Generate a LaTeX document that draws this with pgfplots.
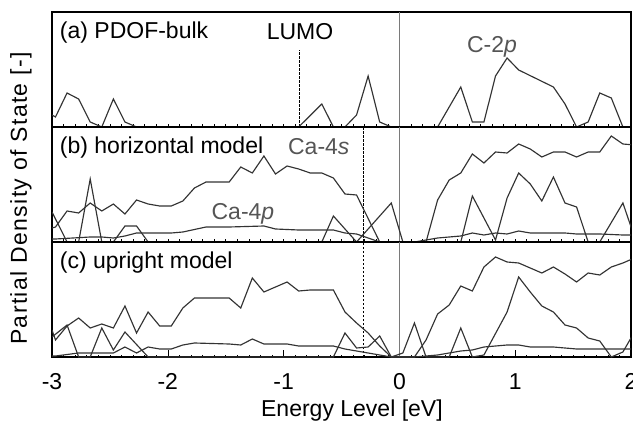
\documentclass[border=0pt]{standalone}
\usepackage{fontspec}
\setmainfont{Liberation Sans}
\usepackage{pgfplots}
\pgfplotsset{compat=1.18}

\definecolor{dline}{HTML}{333333}
\definecolor{zline}{HTML}{7A7A7A}
\definecolor{lbl}{HTML}{555555}

\pgfplotsset{
  panel/.style={
    scale only axis, width=579bp, height=115bp,
    xmin=-3, xmax=2, ymin=0, ymax=115,
    ytick=\empty,
    xtick={-3,-2,-1,0,1,2},
    xticklabels={},
    minor x tick num=9,
    xtick pos=bottom,
    tick align=inside,
    major tick length=2.5bp, minor tick length=2.5bp,
    axis line style={line width=1.3bp},
    every tick/.style={black, line width=0.6bp},
  },
  dos/.style={dline, line width=1.15bp, mark=none},
  zero/.style={zline, line width=1.6bp, mark=none},
  vdash/.style={black, line width=0.8bp, dash pattern=on 2.5bp off 1.5bp, mark=none},
}

\begin{document}
\begin{tikzpicture}[font=\fontsize{23bp}{27bp}\selectfont]

% (a) PDOF-bulk
\begin{axis}[panel, at={(0,230bp)}, anchor=south west]
  \addplot[zero] coordinates {(0,0) (0,115)};
  \addplot[vdash] coordinates {(-0.86,0) (-0.86,77)};
  \addplot[dos] coordinates {
    (-3.0,12) (-2.97,10) (-2.87,34) (-2.77,28) (-2.67,5) (-2.57,0) (-2.47,28) (-2.37,5) (-2.27,0)
    (-0.87,0) (-0.67,23) (-0.57,0) (-0.47,0) (-0.37,12) (-0.27,51) (-0.17,5) (-0.07,0)
    (0.33,0) (0.53,40) (0.63,5) (0.73,5) (0.83,51) (0.93,69) (1.03,57) (1.33,40) (1.43,23)
    (1.53,0) (1.63,5) (1.73,34) (1.83,29) (1.93,0) (2.03,0)
  };
  \node[anchor=base west, inner sep=0pt] at (axis cs:-2.933,88) {(a) PDOF-bulk};
  \node[anchor=base, inner sep=0pt] at (axis cs:-0.858,87) {LUMO};
  \node[anchor=base, inner sep=0pt, text=lbl] at (axis cs:0.80,74) {C-2\textit{p}};
\end{axis}

% (b) horizontal model
\begin{axis}[panel, at={(0,115bp)}, anchor=south west]
  \addplot[zero] coordinates {(0,0) (0,115)};
  \addplot[vdash] coordinates {(-0.31,0) (-0.31,115)};
  % Ca-4s / upper curve
  \addplot[dos] coordinates {
    (-3.0,14) (-2.97,15) (-2.87,31) (-2.77,29) (-2.67,39) (-2.57,31) (-2.47,38) (-2.37,28) (-2.27,42)
    (-2.17,38) (-2.07,36) (-1.97,36) (-1.87,41) (-1.77,54) (-1.67,60) (-1.57,60) (-1.47,60)
    (-1.37,75) (-1.27,69) (-1.17,86) (-1.07,68) (-0.97,76) (-0.87,73) (-0.77,69) (-0.67,69)
    (-0.57,64) (-0.47,48) (-0.37,47) (-0.17,0) (0.23,0) (0.33,42) (0.43,62) (0.53,69) (0.63,88)
    (0.73,79) (0.83,90) (0.93,89) (1.03,98) (1.13,93) (1.23,85) (1.33,90) (1.43,90) (1.53,85)
    (1.63,90) (1.73,90) (1.83,106) (1.93,98) (2.03,97)
  };
  % Ca-4p / low curve
  \addplot[dos] coordinates {
    (-3.0,3) (-2.97,3) (-2.67,5) (-2.57,5) (-2.47,4) (-2.37,6) (-2.27,9) (-1.97,9) (-1.87,10)
    (-1.67,15) (-1.47,15) (-1.17,16) (-1.07,13) (-0.87,12) (-0.57,12) (-0.47,9) (-0.37,8)
    (-0.27,4) (-0.17,0) (0.13,0) (0.33,4) (0.53,6) (0.63,9) (0.73,7) (0.83,9) (0.93,8) (1.03,11)
    (1.13,9) (1.43,9) (1.53,8) (1.73,8) (1.93,7) (2.03,7)
  };
  % spiky curve
  \addplot[dos] coordinates {
    (-3.0,30) (-2.87,0) (-2.77,0) (-2.67,63) (-2.57,0) (-2.47,0) (-2.37,16) (-2.27,16) (-2.17,0)
    (-0.67,0) (-0.57,26) (-0.37,0) (-0.07,39) (0.03,0) (0.53,0) (0.63,46) (0.83,2) (0.93,44)
    (1.03,69) (1.13,58) (1.23,41) (1.33,65) (1.43,39) (1.53,35) (1.63,0) (1.73,0) (1.93,39) (2.03,5)
  };
  \node[anchor=base west, inner sep=0pt] at (axis cs:-2.933,88) {(b) horizontal model};
  \node[anchor=base, inner sep=0pt, text=lbl] at (axis cs:-0.696,87) {Ca-4\textit{s}};
  \node[anchor=base, inner sep=0pt, text=lbl] at (axis cs:-1.351,22) {Ca-4\textit{p}};
\end{axis}

% (c) upright model
\begin{axis}[panel, at={(0,0)}, anchor=south west,
    xticklabels={-3,-2,-1,0,1,2},
    major tick length=7bp,
    xticklabel style={inner sep=0pt, anchor=north, yshift=-16bp},
    xlabel={Energy Level [eV]},
    xlabel style={at={(axis description cs:0.518,0)}, anchor=north, inner sep=0pt, yshift=-43bp},
  ]
  \addplot[zero] coordinates {(0,0) (0,115)};
  \addplot[vdash] coordinates {(-0.31,0) (-0.31,115)};
  % upper curve
  \addplot[dos] coordinates {
    (-3.0,27) (-2.97,17) (-2.87,31) (-2.77,39) (-2.67,29) (-2.57,33) (-2.47,29) (-2.37,51) (-2.27,24)
    (-2.17,45) (-2.07,31) (-1.97,31) (-1.87,49) (-1.77,59) (-1.57,59) (-1.47,59) (-1.37,49)
    (-1.27,79) (-1.17,65) (-0.97,75) (-0.87,66) (-0.77,67) (-0.57,67) (-0.47,45) (-0.37,34)
    (-0.27,24) (-0.17,11) (-0.07,0) (0.13,0) (0.23,17) (0.33,43) (0.43,52) (0.53,71) (0.63,66)
    (0.73,90) (0.83,100) (0.93,95) (1.03,94) (1.13,89) (1.23,84) (1.33,90) (1.43,83) (1.53,75)
    (1.63,84) (1.73,82) (1.83,90) (1.93,94) (2.03,99)
  };
  % low curve
  \addplot[dos] coordinates {
    (-3.0,1) (-2.97,1) (-2.77,4) (-2.47,4) (-2.37,10) (-2.27,4) (-2.17,10) (-2.07,8) (-1.97,8)
    (-1.87,12) (-1.77,14) (-1.47,13) (-1.37,12) (-1.27,18) (-1.17,13) (-0.97,13) (-0.87,11)
    (-0.57,11) (-0.47,8) (-0.37,6) (-0.27,4) (-0.07,0) (0.13,0) (0.33,2) (0.53,6) (0.63,7)
    (0.73,10) (0.93,12) (1.03,12) (1.13,10) (1.33,10) (1.53,8) (2.03,8)
  };
  % spiky curve
  \addplot[dos] coordinates {
    (-3.0,20) (-2.87,32) (-2.77,0) (-2.67,0) (-2.57,29) (-2.47,7) (-2.37,25) (-2.17,0)
    (-0.57,0) (-0.47,24) (-0.37,9) (-0.27,10) (-0.17,21) (-0.07,0) (0.03,4) (0.13,34) (0.23,0)
    (0.43,0) (0.53,29) (0.63,0) (0.73,2) (0.93,45) (1.03,80) (1.13,65) (1.23,51) (1.33,45)
    (1.43,32) (1.53,29) (1.63,19) (1.73,16) (1.83,0) (1.93,5) (2.03,25)
  };
  \node[anchor=base west, inner sep=0pt] at (axis cs:-2.933,89) {(c) upright model};
\end{axis}

\node[rotate=90, anchor=center, inner sep=0pt] at (-31bp,158.5bp)
  {\addfontfeature{LetterSpace=6.0}Partial Density of State [-]};

\pgfresetboundingbox
\path[use as bounding box] (-52bp,-66bp) rectangle (581bp,357bp);
\end{tikzpicture}
\end{document}
